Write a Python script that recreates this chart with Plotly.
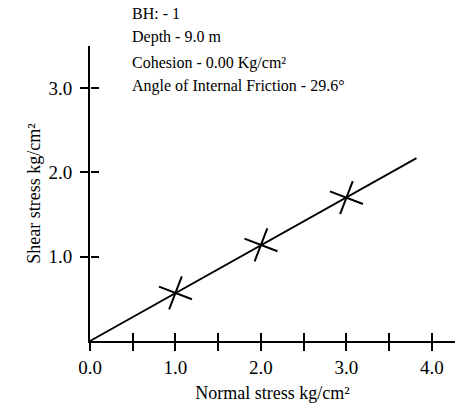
import plotly.graph_objects as go

# ---- data ----
normal_stress = [1.0, 2.0, 3.0]
shear_stress = [0.57, 1.14, 1.70]
envelope_x = [0.0, 3.82]
envelope_y = [0.0, 2.17]
x_tickvals = [0.0, 0.5, 1.0, 1.5, 2.0, 2.5, 3.0, 3.5, 4.0]
x_ticktext = ["0.0", "", "1.0", "", "2.0", "", "3.0", "", "4.0"]
y_tickvals = [1.0, 2.0, 3.0]
y_ticktext = ["1.0", "2.0", "3.0"]
info_lines = [
    "BH: - 1",
    "Depth - 9.0 m",
    "Cohesion - 0.00 Kg/cm²",
    "Angle of Internal Friction - 29.6°",
]
x_title = "Normal stress kg/cm²"
y_title = "Shear stress kg/cm²"

FONT = "Times New Roman, Liberation Serif, DejaVu Serif, serif"
X_RANGE = [0, 4.27]
Y_RANGE = [0, 3.5]

fig = go.Figure()
fig.add_trace(go.Scatter(x=envelope_x, y=envelope_y, mode="lines",
                         line=dict(color="black", width=1.8),
                         showlegend=False, hoverinfo="skip"))
fig.add_trace(go.Scatter(x=normal_stress, y=shear_stress, mode="markers",
                         marker=dict(symbol="x-thin", size=25, angle=-24,
                                     color="black",
                                     line=dict(color="black", width=2)),
                         showlegend=False))

axis_common = dict(showgrid=False, zeroline=False, ticklen=8, tickwidth=1.8,
                   tickcolor="black")

fig.update_layout(
    width=455, height=406,
    margin=dict(l=90, r=0, t=46, b=65),
    paper_bgcolor="white", plot_bgcolor="white",
    font=dict(family=FONT, color="black", size=16),
    xaxis=dict(range=X_RANGE, tickvals=x_tickvals, ticktext=x_ticktext,
               ticks="outside", showline=True, linecolor="black", linewidth=2,
               tickfont=dict(size=19, family=FONT),
               title=dict(text=x_title, font=dict(size=18, family=FONT), standoff=10),
               **axis_common),
    yaxis=dict(range=Y_RANGE, tickvals=y_tickvals, ticktext=y_ticktext,
               ticks="outside", showline=True, linecolor="black", linewidth=2,
               tickfont=dict(size=19, family=FONT), ticklabelstandoff=4,
               title=dict(text=y_title, font=dict(size=18, family=FONT), standoff=3),
               **axis_common),
    xaxis2=dict(range=X_RANGE, overlaying="x", anchor="free", position=0,
                side="bottom", tickvals=x_tickvals, showticklabels=False,
                ticks="inside", showline=False, **axis_common),
    yaxis2=dict(range=Y_RANGE, overlaying="y", anchor="free", position=0,
                side="left", tickvals=y_tickvals, showticklabels=False,
                ticks="inside", showline=False, **axis_common),
)

# invisible trace to activate the secondary (inside-tick) axes
fig.add_trace(go.Scatter(x=[0], y=[0], xaxis="x2", yaxis="y2", mode="markers",
                         marker=dict(opacity=0), showlegend=False,
                         hoverinfo="skip"))

line_y_px = [14, 37, 63, 86]
for txt, ypx in zip(info_lines, line_y_px):
    fig.add_annotation(text=txt, xref="paper", yref="paper",
                       x=(130 - 90) / 365, y=(406 - 65 - ypx) / 295,
                       xanchor="left", yanchor="middle", showarrow=False,
                       font=dict(size=16, family=FONT))

fig.write_html("out.html")
